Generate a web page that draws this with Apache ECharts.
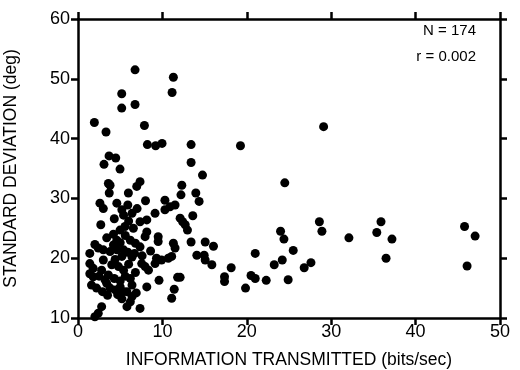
<!DOCTYPE html>
<html>
<head>
<meta charset="utf-8">
<script src="https://cdn.jsdelivr.net/npm/echarts@6/dist/echarts.min.js"></script>
<style>
  html, body { margin: 0; padding: 0; background: #fff; }
  #chart { width: 520px; height: 370px; }
</style>
</head>
<body>
<div id="chart"></div>
<script>
// axis ticks
const xTicks = [0, 10, 20, 30, 40, 50]
const yTicks = [10, 20, 30, 40, 50, 60]

// points: [bits/sec, deg]
const sparsePoints = [
  [29.1, 42.0], [19.25, 38.8], [13.4, 39.0], [13.4, 36.0], [14.75, 33.9], [12.3, 32.2],
  [13.96, 30.9], [14.35, 29.5], [24.5, 32.6], [13.6, 27.1], [12.4, 26.1], [12.7, 25.6],
  [12.97, 24.7], [13.4, 22.7], [15.07, 22.7], [16.05, 22.0], [14.08, 20.5], [14.95, 20.5],
  [15.07, 19.7], [15.86, 18.9], [12.1, 16.8], [18.15, 18.4], [17.36, 16.9], [17.36, 16.1],
  [19.85, 15.0], [21.0, 20.8], [20.5, 17.1], [21.0, 16.6], [22.3, 16.3], [23.25, 18.9],
  [24.2, 19.7], [25.5, 21.3], [24.9, 16.4], [24.0, 24.5], [24.4, 23.2], [26.8, 18.4],
  [27.6, 19.25], [28.6, 26.1], [28.9, 24.5], [32.1, 23.4], [35.4, 24.3], [35.9, 26.1],
  [37.2, 23.2], [36.5, 20.0], [45.8, 25.3], [47.05, 23.7], [46.1, 18.7]
]
const upperPoints = [
  [6.76, 51.5], [11.3, 50.25], [11.15, 47.7], [5.18, 47.5], [5.18, 45.1], [6.76, 45.7],
  [1.94, 42.7], [3.32, 41.1], [7.87, 42.2], [8.22, 39.0], [9.2, 38.8], [9.96, 39.2],
  [3.68, 37.1], [4.47, 36.75], [3.08, 35.7], [4.98, 34.9]
]
const densePoints = [
  [3.6, 32.5], [3.8, 32.2], [3.7, 30.9], [7.35, 32.8], [6.96, 32.0], [5.97, 30.9],
  [12.2, 30.6], [10.3, 29.7], [2.6, 29.2], [3.0, 28.3], [4.6, 29.2], [5.2, 28.1],
  [5.4, 27.2], [6.4, 27.5], [9.13, 27.5], [10.3, 28.1], [10.9, 28.6], [11.5, 28.9],
  [12.1, 26.7], [2.7, 25.6], [4.98, 24.7], [5.57, 25.3], [6.56, 25.0], [7.35, 26.1],
  [8.15, 26.4], [8.15, 24.4], [7.95, 23.6], [4.6, 23.0], [6.2, 23.0], [6.8, 22.5],
  [7.35, 21.9], [9.5, 23.6], [9.5, 22.8], [11.3, 22.5], [11.5, 21.7], [2.4, 21.7],
  [3.0, 21.4], [3.8, 21.1], [4.6, 21.4], [5.4, 21.4], [5.2, 20.3], [1.4, 20.8],
  [1.4, 19.1], [1.8, 18.3], [4.0, 18.9], [3.0, 19.7], [2.8, 18.0], [4.8, 18.6],
  [5.4, 18.0], [7.55, 19.1], [7.95, 18.6], [8.35, 18.0], [9.3, 20.0], [9.9, 19.7],
  [10.7, 20.0], [11.1, 20.3], [9.13, 19.1], [6.2, 16.6], [6.4, 15.5], [1.6, 15.5],
  [2.2, 15.0], [3.4, 15.8], [3.8, 15.0], [4.4, 14.7], [5.0, 15.2], [5.4, 14.4],
  [5.8, 14.4], [6.4, 13.6], [6.2, 12.7], [8.15, 15.2], [11.8, 16.8], [11.4, 14.8],
  [11.1, 13.3], [7.35, 11.6], [2.8, 11.9], [2.4, 10.8], [2.0, 10.2], [1.8, 16.9],
  [1.4, 17.4],
  [4.2, 22.2], [5.0, 22.6], [5.9, 21.0], [6.4, 20.2], [4.4, 19.8], [3.6, 17.2],
  [4.3, 16.6], [5.0, 16.2], [5.6, 17.0], [6.0, 19.0], [3.2, 16.4], [2.5, 17.0],
  [4.7, 13.9], [5.2, 13.2], [6.9, 14.2], [6.7, 20.8], [5.6, 23.8], [4.2, 24.0],
  [3.4, 23.4], [2.0, 22.3], [6.0, 26.2], [4.3, 26.6], [5.9, 28.9], [7.0, 28.3],
  [8.0, 29.6], [7.6, 20.4], [8.6, 21.2], [3.5, 13.8], [2.9, 14.4], [6.8, 17.6],
  [5.8, 11.9], [9.6, 16.3]
]
const points = sparsePoints.concat(upperPoints, densePoints)

const font = 'Liberation Sans, Arial, Helvetica, sans-serif'

const chart = echarts.init(document.getElementById('chart'))

function frameAxis (pos, min, max, extra) {
  return Object.assign({
    type: 'value',
    position: pos,
    min: min,
    max: max,
    interval: 10,
    axisLine: { show: true, onZero: false, lineStyle: { color: '#000', width: 2.5 } },
    axisTick: { show: true, inside: false, length: 7, lineStyle: { color: '#000', width: 2.5 } },
    splitLine: { show: false },
    axisLabel: { show: false }
  }, extra || {})
}

const option = {
  animation: false,
  backgroundColor: '#fff',
  grid: { left: 78, right: 20, top: 19, bottom: 52, outerBoundsMode: 'none', containLabel: false },
  xAxis: [
    frameAxis('bottom', xTicks[0], xTicks[xTicks.length - 1], {
      name: 'INFORMATION TRANSMITTED (bits/sec)',
      nameLocation: 'middle',
      nameGap: 33,
      nameTextStyle: { color: '#000', fontSize: 17.5, fontFamily: font },
      axisLabel: { show: true, color: '#000', fontSize: 18, fontFamily: font, margin: 5 }
    }),
    frameAxis('top', xTicks[0], xTicks[xTicks.length - 1])
  ],
  yAxis: [
    frameAxis('left', yTicks[0], yTicks[yTicks.length - 1], {
      name: 'STANDARD DEVIATION (deg)',
      nameLocation: 'middle',
      nameGap: 58,
      nameTextStyle: { color: '#000', fontSize: 17.5, fontFamily: font },
      axisLabel: { show: true, color: '#000', fontSize: 18, fontFamily: font, margin: 8 }
    }),
    frameAxis('right', yTicks[0], yTicks[yTicks.length - 1])
  ],
  graphic: [
    { type: 'text', right: 44, top: 23, style: { text: 'N = 174', fill: '#000', font: '15px ' + font, textAlign: 'right' } },
    { type: 'text', right: 44, top: 49, style: { text: 'r = 0.002', fill: '#000', font: '15px ' + font, textAlign: 'right' } }
  ],
  series: [
    {
      type: 'scatter',
      xAxisIndex: 0,
      yAxisIndex: 0,
      symbolSize: 9,
      itemStyle: { color: '#000', opacity: 1 },
      data: points
    }
  ]
}

chart.setOption(option)
</script>
</body>
</html>
